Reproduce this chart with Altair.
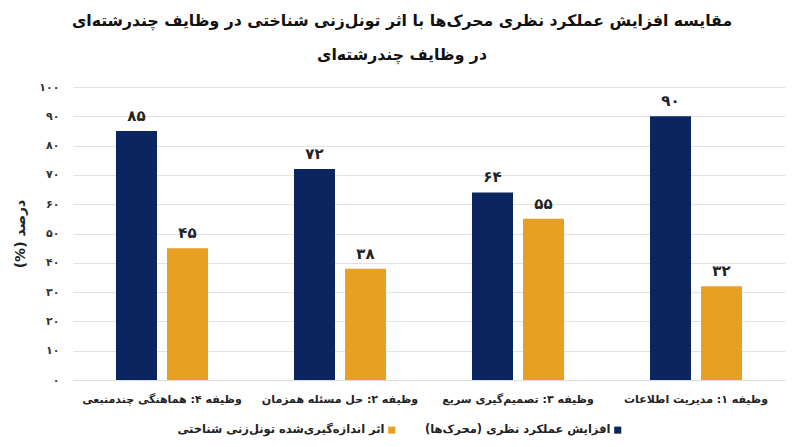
import pandas as pd
import altair as alt

# DATA (display order, left to right)
# -----------------------------------
tasks = [
    "وظیفه ۴: هماهنگی چندمنبعی",
    "وظیفه ۲: حل مسئله همزمان",
    "وظیفه ۳: تصمیم‌گیری سریع",
    "وظیفه ۱: مدیریت اطلاعات",
]
theoretical = [85, 72, 64, 90]
measured = [45, 38, 55, 32]

RLM = "\u200f"
series_theory = RLM + "افزایش عملکرد نظری (محرک‌ها)" + RLM
series_measured = RLM + "اثر اندازه‌گیری‌شده تونل‌زنی شناختی" + RLM

title_lines = [
    "مقایسه افزایش عملکرد نظری محرک‌ها با اثر تونل‌زنی شناختی در وظایف چندرشته‌ای",
    "در وظایف چندرشته‌ای",
]
y_title = RLM + "درصد (%)" + RLM
y_ticks = [0, 10, 20, 30, 40, 50, 60, 70, 80, 90, 100]

NAVY = "#0b2560"
ORANGE = "#e8a023"
FONT = "DejaVu Sans"

FA_DIGITS = "۰۱۲۳۴۵۶۷۸۹"


def fa(n):
    return str(n).translate(str.maketrans("0123456789", FA_DIGITS))


rows = []
for t, a, b in zip(tasks, theoretical, measured):
    rows.append({"task": RLM + t + RLM, "series": series_theory, "value": a, "label": fa(a)})
    rows.append({"task": RLM + t + RLM, "series": series_measured, "value": b, "label": fa(b)})
df = pd.DataFrame(rows)
task_order = [RLM + t + RLM for t in tasks]

# persian digits on the y axis
label_expr = "datum.label"
for d in range(10):
    label_expr = f"replace({label_expr}, regexp('{d}', 'g'), '{FA_DIGITS[d]}')"

base = alt.Chart(df).encode(
    x=alt.X("task:N", sort=task_order, title=None,
            scale=alt.Scale(paddingInner=0.483, paddingOuter=0.2415),
            axis=alt.Axis(labelAngle=0, labelFont=FONT, labelFontSize=11,
                          labelFontWeight="bold", labelColor="#222222",
                          labelPadding=13, labelLimit=300, ticks=False, domain=True,
                          domainColor="#dcdcdc", grid=False)),
    xOffset=alt.XOffset("series:N", sort=[series_theory, series_measured],
                        scale=alt.Scale(paddingInner=0.196, paddingOuter=0)),
    y=alt.Y("value:Q", title=y_title,
            scale=alt.Scale(domain=[0, 100]),
            axis=alt.Axis(values=y_ticks, labelExpr=label_expr,
                          labelOverlap=False,
                          labelFont=FONT, labelFontSize=11, labelFontWeight="bold",
                          labelColor="#333333", labelPadding=14, ticks=False,
                          domain=False, gridColor="#e3e3e3",
                          titleFont=FONT, titleFontSize=14, titleFontWeight="bold",
                          titleColor="#222222", titlePadding=11)),
)

bars = base.mark_bar().encode(
    color=alt.Color("series:N",
                    scale=alt.Scale(domain=[series_measured, series_theory],
                                    range=[ORANGE, NAVY]),
                    legend=alt.Legend(orient="none", direction="horizontal", title=None,
                                      legendX=313, legendY=337,
                                      symbolType="square", symbolSize=50,
                                      symbolStrokeWidth=0,
                                      labelFont=FONT, labelFontSize=11.5,
                                      labelFontWeight="bold", labelColor="#222222",
                                      labelAlign="right", labelOffset={"expr": "-13"},
                                      labelLimit=400, columnPadding=28)),
)

texts = base.mark_text(baseline="bottom", dy=-7, font=FONT, fontSize=15,
                       fontWeight="bold", color="#222222").encode(
    text="label:N",
)

chart = alt.layer(bars, texts).properties(
    width=712,
    height=293,
    autosize=alt.AutoSizeParams(type="none"),
    padding={"left": 65, "top": 79, "right": 7, "bottom": 59},
    title=alt.TitleParams(text=title_lines, font=FONT, fontSize=15.7,
                          fontWeight="bold", color="#111111", lineHeight=34,
                          anchor="middle", dx=-27, offset=17),
).configure_view(stroke=None)

chart.save("out.html", embed_options={"renderer": "svg", "actions": False})
